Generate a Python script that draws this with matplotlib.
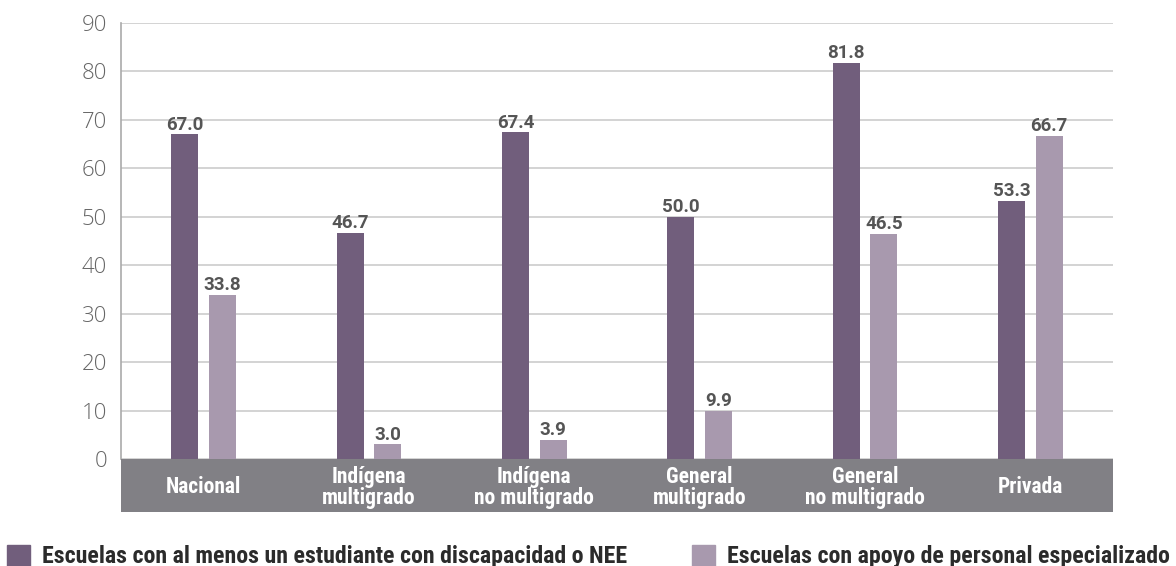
import matplotlib.pyplot as plt
from matplotlib.patches import Rectangle
import numpy as np

categories = ["Nacional", "Indígena\nmultigrado", "Indígena\nno multigrado",
              "General\nmultigrado", "General\nno multigrado", "Privada"]
con_discapacidad = [67.0, 46.7, 67.4, 50.0, 81.8, 53.3]
con_apoyo = [33.8, 3.0, 3.9, 9.9, 46.5, 66.7]
series_names = ["Escuelas con al menos un estudiante con discapacidad o NEE",
                "Escuelas con apoyo de personal especializado"]
yticks = [0, 10, 20, 30, 40, 50, 60, 70, 80, 90]

plt.rcParams['font.family'] = ['Roboto Condensed', 'Roboto', 'DejaVu Sans']

DARK = "#715e7c"
LIGHT = "#a899ae"
W = 1176
H = 566

fig = plt.figure(figsize=(W / 100, H / 100), dpi=100)
ax = fig.add_axes([121 / W, 1 - 459 / H, 992 / W, 436 / H])

x = np.arange(len(categories))
bw = 0.165
b1 = ax.bar(x - 0.114, con_discapacidad, bw, color=DARK, zorder=3)
b2 = ax.bar(x + 0.114, con_apoyo, bw, color=LIGHT, zorder=3)

for bars in (b1, b2):
    for b in bars:
        ax.text(b.get_x() + b.get_width() / 2, b.get_height() + 1.0,
                f"{b.get_height():.1f}", ha="center", va="baseline",
                fontsize=13.5, fontweight="bold", color="#555555",
                family=["Roboto", "DejaVu Sans"], zorder=4)

ax.set_xlim(-0.5, len(categories) - 0.5)
ax.set_ylim(0, 90)
ax.set_yticks(yticks)
ax.set_yticklabels([str(t) for t in yticks], fontsize=16, color="#666666",
                   family=["Open Sans", "DejaVu Sans"], fontweight="light")
ax.tick_params(axis="y", length=0, pad=10)
ax.set_xticks([])
ax.yaxis.grid(True, color="#cccccc", linewidth=1.2, zorder=0)
for s in ["top", "right", "bottom"]:
    ax.spines[s].set_visible(False)
ax.spines["left"].set_color("#aaaaaa")
ax.spines["left"].set_linewidth(1.2)

# gray category band
band = fig.add_axes([121 / W, 1 - 512 / H, 992 / W, 53 / H])
band.set_xlim(-0.5, len(categories) - 0.5)
band.set_ylim(0, 1)
band.set_facecolor("#818085")
band.set_xticks([])
band.set_yticks([])
for s in band.spines.values():
    s.set_visible(False)
for i, c in enumerate(categories):
    band.text(i, 0.47, c, ha="center", va="center", color="white",
              fontsize=15.5, fontweight="bold", linespacing=0.95)

# legend
colors = [DARK, LIGHT]
sq_x = [7, 692]
for name, col, sx in zip(series_names, colors, sq_x):
    fig.patches.append(Rectangle((sx / W, 1 - 566 / H), 23 / W, 21 / H,
                                 transform=fig.transFigure, color=col))
    fig.text((sx + 35) / W, 1 - 563 / H, name, ha="left", va="baseline",
             fontsize=17.2, fontweight="bold", color="#2b2b2b")

plt.savefig("out.png", dpi=100)
plt.close()
